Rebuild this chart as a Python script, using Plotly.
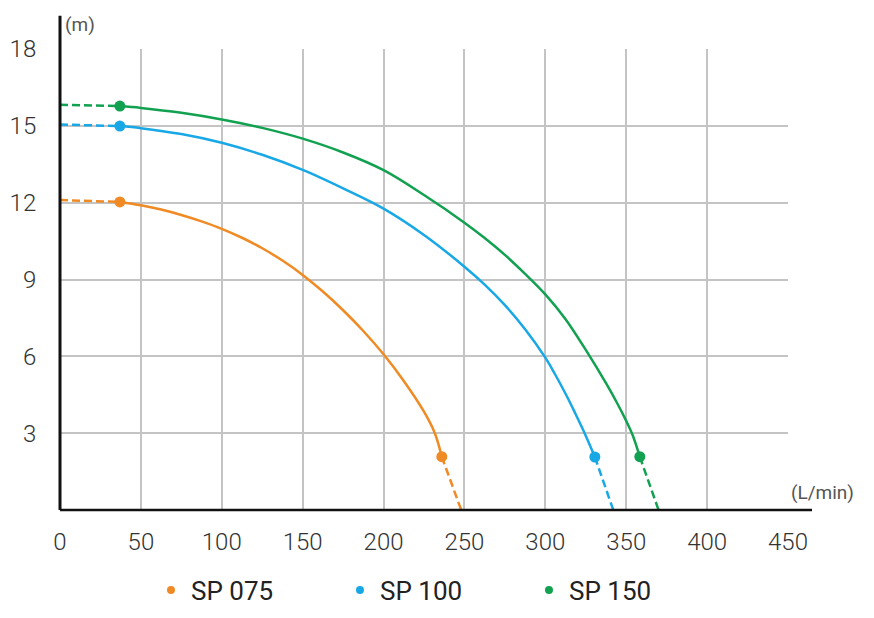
import plotly.graph_objects as go

# pump curves: flow (L/min) vs head (m)
models = ["SP 075", "SP 100", "SP 150"]
colors = ["#F08A24", "#18A8E6", "#12A150"]

# solid part of each curve (between the two markers)
sp075_q = [37, 50, 62.5, 75, 87.5, 100, 112.5, 125, 137.5, 150, 162.5, 175, 187.5, 200, 212.5,
           225, 231.7, 236]
sp075_h = [12.03, 11.90, 11.73, 11.52, 11.27, 10.98, 10.63, 10.22, 9.74, 9.18, 8.53, 7.80, 6.99,
           6.08, 5.04, 3.84, 3.0, 2.08]
sp100_q = [37, 50, 75, 100, 125, 150, 175, 200, 225, 250, 262.5, 275, 287.5, 300, 306, 312.5, 318,
           323.4, 330.6]
sp100_h = [14.99, 14.91, 14.68, 14.34, 13.87, 13.28, 12.56, 11.77, 10.74, 9.50, 8.80, 8.00, 7.06,
           5.95, 5.30, 4.54, 3.84, 3.12, 2.07]
sp150_q = [37, 50, 75, 100, 125, 150, 175, 200, 225, 250, 262.5, 275, 287.5, 300, 312.5, 325, 337.5,
           345, 350, 354, 358.4]
sp150_h = [15.77, 15.70, 15.51, 15.25, 14.92, 14.50, 13.96, 13.27, 12.30, 11.22, 10.62, 9.96, 9.22,
           8.42, 7.45, 6.25, 4.95, 4.10, 3.48, 2.92, 2.08]

# dashed extensions: shut-off head at zero flow, max flow at zero head
shutoff_h = [12.1, 15.05, 15.82]
max_q = [248, 342, 370]

solid_q = [sp075_q, sp100_q, sp150_q]
solid_h = [sp075_h, sp100_h, sp150_h]

x_ticks = [0, 50, 100, 150, 200, 250, 300, 350, 400, 450]
y_ticks = [3, 6, 9, 12, 15, 18]

fig = go.Figure()

for name, col, q, h, h0, qmax in zip(models, colors, solid_q, solid_h, shutoff_h, max_q):
    # start dashed
    fig.add_trace(go.Scatter(x=[0, q[0]], y=[h0, h[0]], mode="lines",
                             line=dict(color=col, width=2.5, dash="8px,4px"),
                             showlegend=False, hoverinfo="skip"))
    # end dashed
    fig.add_trace(go.Scatter(x=[q[-1], qmax], y=[h[-1], 0], mode="lines",
                             line=dict(color=col, width=2.5, dash="8px,4px"),
                             showlegend=False, hoverinfo="skip"))
    # solid curve
    fig.add_trace(go.Scatter(x=q, y=h, mode="lines",
                             line=dict(color=col, width=2.5, shape="spline", smoothing=1.0),
                             showlegend=False, name=name))
    # end markers
    fig.add_trace(go.Scatter(x=[q[0], q[-1]], y=[h[0], h[-1]], mode="markers",
                             marker=dict(color=col, size=11),
                             showlegend=False, hoverinfo="skip"))
    # legend entry
    fig.add_trace(go.Scatter(x=[None], y=[None], mode="markers", name=name,
                             marker=dict(color=col, size=8)))

# axis lines extending past the grid
fig.add_shape(type="line", xref="paper", yref="paper", x0=0, x1=1.033, y0=0, y1=0,
              line=dict(color="#111", width=2.5))
fig.add_shape(type="line", xref="paper", yref="paper", x0=0, x1=0, y0=0, y1=1.072,
              line=dict(color="#111", width=3))

fig.add_annotation(text="(m)", xref="paper", yref="paper", x=0.004, y=1.053,
                   xanchor="left", yanchor="middle", showarrow=False,
                   font=dict(size=19, color="#555"))
fig.add_annotation(text="(L/min)", xref="paper", yref="paper", x=1.002, y=0.037,
                   xanchor="left", yanchor="middle", showarrow=False,
                   font=dict(size=19, color="#555"))

fig.update_xaxes(range=[0, 450], tickvals=x_ticks, showgrid=True, gridcolor="#c4c4c4",
                 gridwidth=2, zeroline=False, showline=False, automargin=False,
                 ticks="outside", ticklen=10, tickcolor="rgba(0,0,0,0)",
                 tickfont=dict(size=24, color="#333", weight=300))
fig.update_yaxes(range=[0, 18], tickvals=y_ticks, showgrid=True, gridcolor="#c4c4c4",
                 gridwidth=2, zeroline=False, showline=False, automargin=False,
                 ticks="outside", ticklen=18, tickcolor="rgba(0,0,0,0)",
                 tickfont=dict(size=24, color="#333", weight=300))

fig.update_layout(
    width=874, height=618,
    margin=dict(l=52, r=94, t=41, b=116),
    plot_bgcolor="white", paper_bgcolor="white",
    font=dict(family="Roboto, sans-serif"),
    showlegend=True,
    legend=dict(orientation="h", xref="container", yref="container",
                x=0.1636, xanchor="left", y=0.058, yanchor="middle",
                font=dict(size=26, color="#222"), itemsizing="trace",
                entrywidth=144, traceorder="normal"),
)

fig.write_html("out.html")
